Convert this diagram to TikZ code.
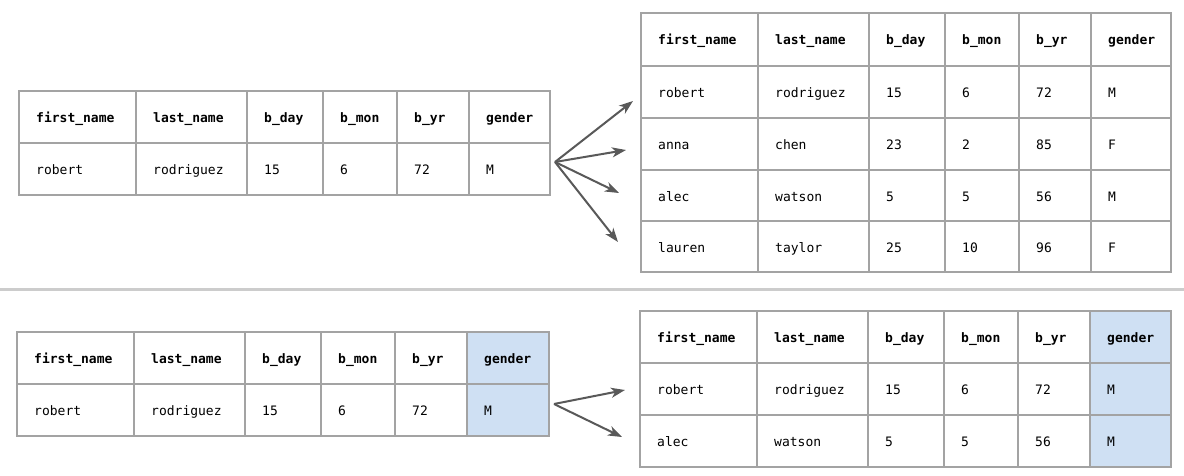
\documentclass[tikz,border=0pt]{standalone}
\usepackage{fontspec}
\setmonofont{DejaVu Sans Mono}
\usetikzlibrary{arrows.meta}
\definecolor{gridc}{HTML}{A3A3A3}
\definecolor{bluec}{HTML}{CFE0F3}
\definecolor{arrc}{HTML}{595959}
\definecolor{sepc}{HTML}{CCCCCC}
\tikzset{
  grid/.style={draw=gridc, line width=2pt},
  hdr/.style={font=\fontsize{13}{15}\selectfont\ttfamily\bfseries, text=black, inner sep=0pt, anchor=base west},
  dat/.style={font=\fontsize{13}{15}\selectfont\ttfamily, text=black, inner sep=0pt, anchor=base west},
  arr/.style={draw=arrc, line width=2pt, -{Stealth[length=14pt,width=10pt,inset=4pt]}},
}
\newcommand\hrow[4]{%
  \foreach \a/\b/\t/\f [count=\i] in {#4} {
    \path[grid,fill=\f] (\a,#2) rectangle (\b,#3);
    \node[hdr] (#1\i) at ({\a+17},{(#2+#3)/2+5.5}) {\t};
  }}
\newcommand\drow[4]{%
  \foreach \a/\b/\t/\f [count=\i] in {#4} {
    \path[grid,fill=\f] (\a,#2) rectangle (\b,#3);
    \node[dat] (#1\i) at ({\a+17},{(#2+#3)/2+5.5}) {\t};
  }}
\begin{document}
\begin{tikzpicture}[x=1pt,y=-1pt]
\path[fill=white,use as bounding box] (0,0) rectangle (1184,476);
% separator
\draw[sepc,line width=3pt] (0,289.5) -- (1184,289.5);
% ---- top left
\hrow{Ah}{91}{143}{19/136/first\_name/white,136/247/last\_name/white,247/323/b\_day/white,323/397/b\_mon/white,397/469/b\_yr/white,469/550/gender/white}
\drow{Ad}{143}{195}{19/136/robert/white,136/247/rodriguez/white,247/323/15/white,323/397/6/white,397/469/72/white,469/550/M/white}
% ---- top right
\hrow{Bh}{13}{66}{641/758/first\_name/white,758/869/last\_name/white,869/945/b\_day/white,945/1019/b\_mon/white,1019/1091/b\_yr/white,1091/1171/gender/white}
\drow{Ba}{66}{118}{641/758/robert/white,758/869/rodriguez/white,869/945/15/white,945/1019/6/white,1019/1091/72/white,1091/1171/M/white}
\drow{Bb}{118}{170}{641/758/anna/white,758/869/chen/white,869/945/23/white,945/1019/2/white,1019/1091/85/white,1091/1171/F/white}
\drow{Bc}{170}{221}{641/758/alec/white,758/869/watson/white,869/945/5/white,945/1019/5/white,1019/1091/56/white,1091/1171/M/white}
\drow{Bd}{221}{272}{641/758/lauren/white,758/869/taylor/white,869/945/25/white,945/1019/10/white,1019/1091/96/white,1091/1171/F/white}
% ---- bottom left
\hrow{Ch}{332}{384}{17/134/first\_name/white,134/245/last\_name/white,245/321/b\_day/white,321/395/b\_mon/white,395/467/b\_yr/white,467/549/gender/bluec}
\drow{Cd}{384}{436}{17/134/robert/white,134/245/rodriguez/white,245/321/15/white,321/395/6/white,395/467/72/white,467/549/M/bluec}
% ---- bottom right
\hrow{Dh}{311}{363}{640/757/first\_name/white,757/868/last\_name/white,868/944/b\_day/white,944/1018/b\_mon/white,1018/1090/b\_yr/white,1090/1171/gender/bluec}
\drow{Da}{363}{415}{640/757/robert/white,757/868/rodriguez/white,868/944/15/white,944/1018/6/white,1018/1090/72/white,1090/1171/M/bluec}
\drow{Db}{415}{467}{640/757/alec/white,757/868/watson/white,868/944/5/white,944/1018/5/white,1018/1090/56/white,1090/1171/M/bluec}
% ---- arrows
\coordinate (As) at (555,162);
\coordinate (At1) at (633,101);
\coordinate (At2) at (626,150);
\coordinate (At3) at (619,193);
\coordinate (At4) at (618,242);
\foreach \k in {1,...,4} \draw[arr] (As) -- (At\k);
\coordinate (Cs) at (554,404);
\coordinate (Ct1) at (625,390);
\coordinate (Ct2) at (622,437);
\draw[arr] (Cs) -- (Ct1);
\draw[arr] (Cs) -- (Ct2);
\end{tikzpicture}
\end{document}
